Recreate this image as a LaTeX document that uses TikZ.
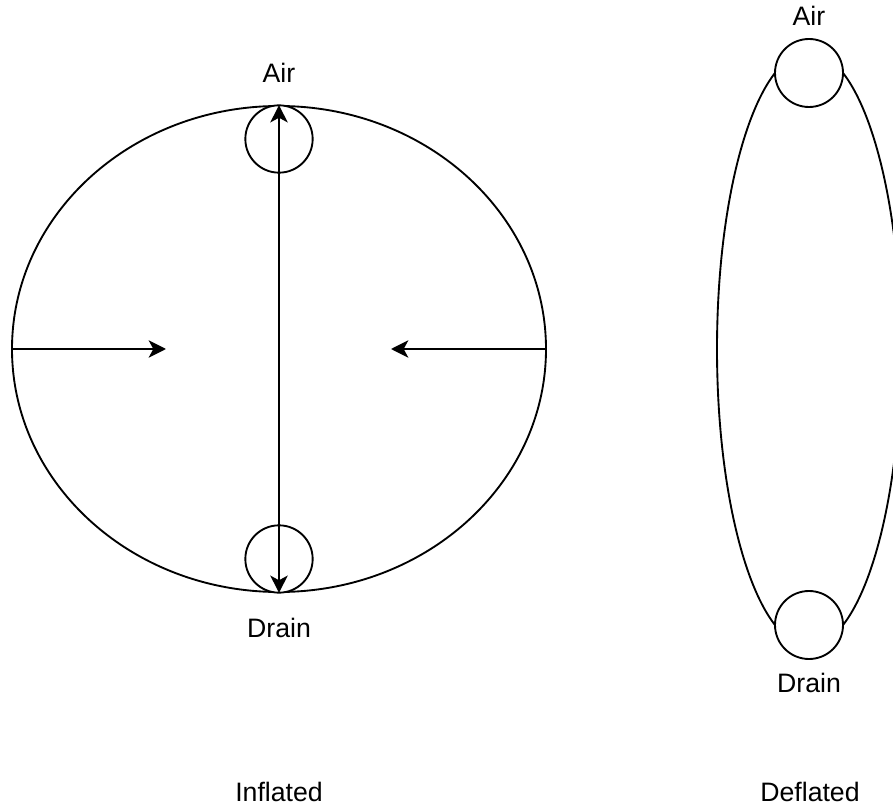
\documentclass[tikz,border=0pt]{standalone}
\usepackage{fontspec}
\setmainfont{Liberation Sans}
\usetikzlibrary{positioning, shapes.geometric, arrows.meta}
\tikzset{
  outline/.style={draw, line width=1.4pt, inner sep=0pt},
  valve/.style={outline, circle, fill=white, minimum size=50.5pt},
  caption/.style={font=\fontsize{20}{24}\selectfont, inner sep=0pt},
  flow/.style={line width=1.4pt, >={Stealth[length=13pt, width=13pt, inset=3.5pt]}}
}

\begin{document}
\begin{tikzpicture}[x=0.75pt, y=-0.75pt]
  \useasboundingbox (0,0) rectangle (893,809);
  % inflated bag
  \node[outline, ellipse, minimum width=400.5pt, minimum height=364.5pt] (bagin) at (279,349) {};
  \node[valve] (airin) at (279,139) {};
  \node[valve] (drainin) at (279,559) {};
  \node[caption, above=16.5pt of airin] (airinlbl) {Air};
  \node[caption, below=18pt of drainin] (draininlbl) {Drain};
  \coordinate (pushl) at (166,349);
  \coordinate (pushr) at (391,349);
  \draw[flow, <->] (bagin.south) -- (bagin.north);
  \draw[flow, ->] (bagin.west) -- (pushl);
  \draw[flow, ->] (bagin.east) -- (pushr);
  % deflated bag
  \node[outline, ellipse, minimum width=138pt, minimum height=445.5pt] (bagout) at (809,349) {};
  \node[valve, minimum size=51pt] (airout) at (809,73) {};
  \node[valve, minimum size=51pt] (drainout) at (809,625) {};
  \node[caption, above=9pt of airout] (airoutlbl) {Air};
  \node[caption, below=9.75pt of drainout] (drainoutlbl) {Drain};
  % captions
  \node[caption] (inflated) at (279,792) {Inflated};
  \node[caption] (deflated) at (810,792) {Deflated};
\end{tikzpicture}
\end{document}
